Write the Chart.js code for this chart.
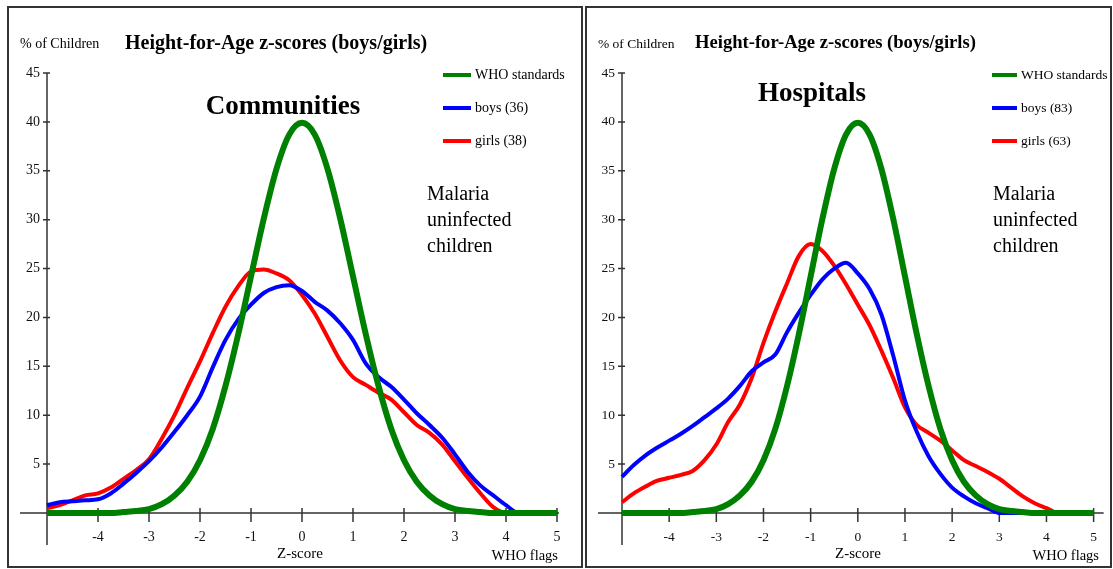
<!DOCTYPE html>
<html><head><meta charset="utf-8">
<script src="https://cdn.jsdelivr.net/npm/chart.js@4/dist/chart.umd.min.js"></script>
<style>
body{margin:0;width:1113px;height:569px;position:relative;background:#fff;overflow:hidden;font-family:"Liberation Serif","Times New Roman",serif;color:#000}
.panel{position:absolute;top:6px;height:562px;border:2px solid #333;box-sizing:border-box}
.cv{position:absolute;top:0}
.t{position:absolute;white-space:nowrap;line-height:1}
.sw{position:absolute;height:4px}
</style></head>
<body>
<div class="panel" style="left:7px;width:576px"></div>
<div class="panel" style="left:585px;width:527px"></div>
<canvas id="c1" class="cv" width="583" height="569" style="left:0"></canvas>
<canvas id="c2" class="cv" width="530" height="569" style="left:583px"></canvas>
<div id="txt"></div>
<script>
// ---- data ----
const zScores = [-5,-4.75,-4.5,-4.25,-4,-3.75,-3.5,-3.25,-3,-2.75,-2.5,-2.25,-2,-1.75,-1.5,-1.25,-1,-0.75,-0.5,-0.25,0,0.25,0.5,0.75,1,1.25,1.5,1.75,2,2.25,2.5,2.75,3,3.25,3.5,3.75,4,4.25,4.5,4.75,5];
const whoStandard = [0,0,0,0,0,0,0.1,0.2,0.4,0.9,1.8,3.2,5.4,8.6,13.0,18.3,24.2,30.1,35.2,38.7,39.9,38.7,35.2,30.1,24.2,18.3,13.0,8.6,5.4,3.2,1.8,0.9,0.4,0.2,0.1,0,0,0,0,0,0];
const communityBoys = [0.8,1.1,1.2,1.3,1.4,2.0,3.0,4.1,5.3,6.7,8.3,10.0,11.9,14.9,17.7,19.8,21.3,22.5,23.1,23.3,22.7,21.6,20.7,19.4,17.7,15.3,13.9,12.9,11.6,10.2,9.0,7.7,6.0,4.2,2.8,1.8,0.8,0,0,0,0];
const communityGirls = [0.5,0.8,1.3,1.8,2.0,2.6,3.5,4.4,5.5,7.6,10.0,12.8,15.5,18.4,21.1,23.2,24.7,24.9,24.5,23.8,22.3,20.4,18.0,15.6,13.9,13.1,12.3,11.6,10.3,9.0,8.2,7.0,5.3,3.6,2.0,0.6,0,0,0,0,0];
const hospitalBoys = [3.7,4.9,5.9,6.7,7.4,8.1,8.9,9.8,10.7,11.7,13.0,14.5,15.4,16.2,18.5,20.5,22.3,23.9,25.0,25.6,24.5,22.9,20.3,16.1,11.5,8.3,5.8,4.0,2.6,1.7,1.0,0.5,0,0,0,0,0,0,0,0,0];
const hospitalGirls = [1.1,2.0,2.7,3.3,3.6,3.9,4.3,5.4,7.0,9.3,11.1,13.8,17.4,20.6,23.5,26.3,27.5,26.8,25.3,23.4,21.3,19.2,16.6,13.8,10.8,9.0,8.2,7.4,6.4,5.4,4.8,4.2,3.5,2.6,1.7,1.0,0.5,0,0,0,0];
const xTickLabels = ['','-4','-3','-2','-1','0','1','2','3','4','5'];
const yTickLabels = ['','5','10','15','20','25','30','35','40','45'];
const seriesNames1 = ['WHO standards','boys (36)','girls (38)'];
const seriesNames2 = ['WHO standards','boys (83)','girls (63)'];
const seriesColors = ['#008000','#0000ff','#ff0000'];
const seriesWidths = [6,4,4];

// ---- helpers ----
const mk = ys => zScores.map((z,i)=>({x:z,y:ys[i]}));
const axesPlugin = {
  id:'axesLines',
  beforeDatasetsDraw(chart, args, opts){
    const {ctx, scales:{x,y}} = chart;
    const x0 = x.getPixelForValue(-5), y0 = y.getPixelForValue(0);
    ctx.save(); ctx.strokeStyle='#333'; ctx.lineWidth=1.5;
    ctx.beginPath();
    ctx.moveTo(opts.xStart, y0); ctx.lineTo(x.right+opts.xEnd, y0);
    ctx.moveTo(x0, y.top); ctx.lineTo(x0, 545);
    x.ticks.forEach(t=>{ if(t.value===-5) return; const px=x.getPixelForValue(t.value); ctx.moveTo(px,y0-5); ctx.lineTo(px,y0+9); });
    y.ticks.forEach(t=>{ if(t.value===0) return; const py=y.getPixelForValue(t.value); ctx.moveTo(x0-4,py); ctx.lineTo(x0+3,py); });
    ctx.stroke(); ctx.restore();
  }
};
function build(id, boys, girls, names, yW, padR, xStart, xEnd, fs){
  const sets=[whoStandard,boys,girls];
  new Chart(document.getElementById(id),{
    type:'line',
    data:{datasets:sets.map((s,i)=>({label:names[i],data:mk(s),borderColor:seriesColors[i],borderWidth:seriesWidths[i],pointRadius:0,cubicInterpolationMode:'monotone',fill:false,clip:false}))},
    options:{
      responsive:false,animation:false,
      layout:{padding:{left:0,right:padR,top:73,bottom:26}},
      plugins:{legend:{display:false},tooltip:{enabled:false},axesLines:{xStart,xEnd}},
      scales:{
        x:{type:'linear',min:-5,max:5,grid:{display:false,drawTicks:false},border:{display:false},
           afterFit:s=>{s.height=30;},
           ticks:{stepSize:1,autoSkip:false,maxRotation:0,padding:16,color:'#111',font:{family:'"Liberation Serif", serif',size:fs},
                  callback:(v)=>xTickLabels[Math.round(v)+5]}},
        y:{min:0,max:45,grid:{display:false,drawTicks:false},border:{display:false},
           afterFit:s=>{s.width=yW;},
           ticks:{stepSize:5,padding:7,color:'#111',font:{family:'"Liberation Serif", serif',size:fs},
                  callback:(v)=>yTickLabels[Math.round(v/5)]}}
      }
    },
    plugins:[axesPlugin]
  });
}
build('c1',communityBoys,communityGirls,seriesNames1,47,26,20,2,14);
build('c2',hospitalBoys,hospitalGirls,seriesNames2,39,16,15,10,13.5);

// ---- text overlay ----
const txt=document.getElementById('txt');
function T(s,css){const d=document.createElement('div');d.className='t';d.textContent=s;d.style.cssText+=css;txt.appendChild(d);return d;}
function panelText(o){
  T('% of Children',`left:${o.pc}px;top:37px;font-size:${o.pcs}px;`);
  T('Height-for-Age z-scores (boys/girls)',`left:${o.ti}px;top:${42-o.ts/2}px;font-size:${o.ts}px;font-weight:bold;`);
  T(o.name,`left:${o.nx}px;top:${o.ny-14}px;font-size:27px;font-weight:bold;transform:translateX(-50%);`);
  [75,108,141].forEach((yy,i)=>{
    const s=document.createElement('div');s.className='sw';s.style.cssText=`left:${o.lx}px;top:${yy-2}px;width:${o.lw}px;background:${seriesColors[i]}`;txt.appendChild(s);
    T(o.names[i],`left:${o.lx+o.lw+4}px;top:${yy-7}px;font-size:${o.ls}px;`);
  });
  const m=T('',`left:${o.mx}px;top:180px;font-size:20px;line-height:26px;`);
  m.innerHTML='Malaria<br>uninfected<br>children';
  T('Z-score',`left:${o.zx}px;top:546px;font-size:15px;transform:translateX(-50%);`);
  T('WHO flags',`left:${o.wx}px;top:548px;font-size:14.5px;transform:translateX(-100%);`);
}
panelText({pc:20,pcs:14,ti:125,ts:20,name:'Communities',nx:283,ny:106,lx:443,lw:28,ls:14,names:seriesNames1,mx:427,zx:300,wx:558});
panelText({pc:598,pcs:13.5,ti:695,ts:18.6,name:'Hospitals',nx:812,ny:93,lx:992,lw:25,ls:13.5,names:seriesNames2,mx:993,zx:858,wx:1099});
</script>
</body></html>
